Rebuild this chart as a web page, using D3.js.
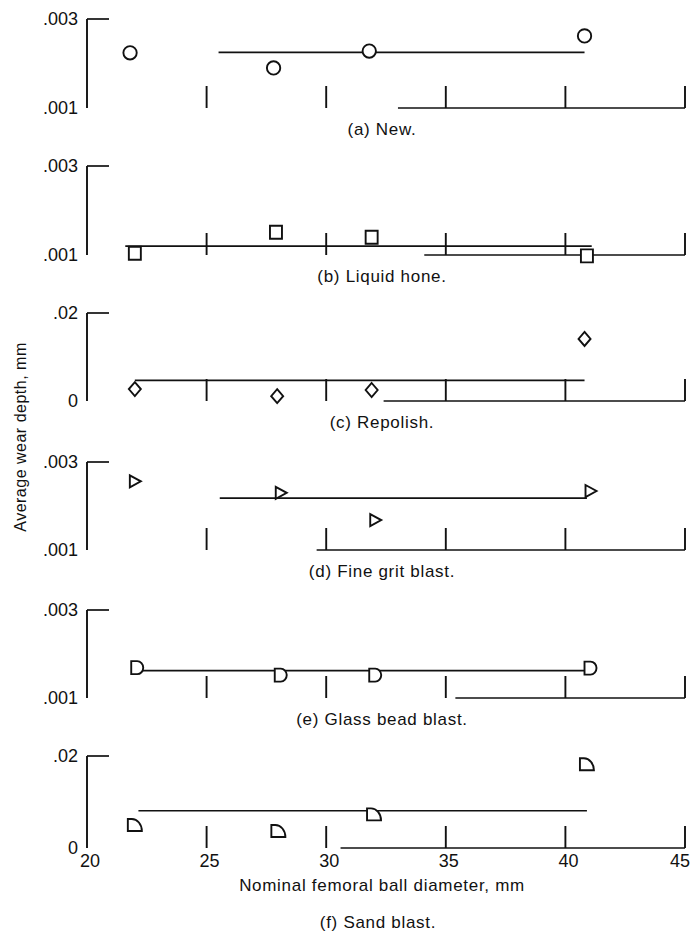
<!DOCTYPE html>
<html>
<head>
<meta charset="utf-8">
<script src="https://cdn.jsdelivr.net/npm/d3@7"></script>
<style>
  html, body { margin: 0; padding: 0; background: #fff; }
  text { font-family: "Liberation Sans Narrow", "Liberation Sans", "DejaVu Sans", sans-serif; fill: #111; }
</style>
</head>
<body>
<svg id="chart" width="691" height="941"></svg>
<script>
// ---------------- data ----------------
const xTicks = [20, 25, 30, 35, 40, 45];
const captions = ["(a) New.", "(b) Liquid hone.", "(c) Repolish.", "(d) Fine grit blast.", "(e) Glass bead blast.", "(f) Sand blast."];
const yTickLabels = [[".001", ".003"], [".001", ".003"], ["0", ".02"], [".001", ".003"], [".001", ".003"], ["0", ".02"]];
const yDomains = [[0.001, 0.003], [0.001, 0.003], [0, 0.02], [0.001, 0.003], [0.001, 0.003], [0, 0.02]];

const newX = [21.8, 27.8, 31.8, 40.8];
const newY = [0.00224, 0.0019, 0.00228, 0.00262];
const newFitX = [25.5, 40.8];
const newFitY = 0.00225;

const honeX = [22, 27.9, 31.9, 40.9];
const honeY = [0.00104, 0.00151, 0.0014, 0.00098];
const honeFitX = [21.6, 41.1];
const honeFitY = 0.0012;

const repolX = [22, 27.95, 31.9, 40.8];
const repolY = [0.0027, 0.0011, 0.0025, 0.0141];
const repolFitX = [22, 40.8];
const repolFitY = 0.0047;

const gritX = [22, 28.1, 32.05, 41.05];
const gritY = [0.00256, 0.0023, 0.00168, 0.00234];
const gritFitX = [25.55, 40.9];
const gritFitY = 0.00218;

const glassX = [22.1, 28.1, 32.05, 41.05];
const glassY = [0.00169, 0.00152, 0.00152, 0.00168];
const glassFitX = [22.2, 40.9];
const glassFitY = 0.00162;

const sandX = [22, 28, 32, 40.9];
const sandY = [0.005, 0.0037, 0.0073, 0.0182];
const sandFitX = [22.15, 40.9];
const sandFitY = 0.0081;

// partial bottom axis line start (x units) as seen in the scan
const baseStart = [33.0, 34.1, 32.4, 29.6, 35.4, 30.6];

// ---------------- layout ----------------
const svg = d3.select("#chart");
const xLeft = 87, xRight = 685;
const x = d3.scaleLinear().domain([20, 45]).range([xLeft, xRight]);
const panelTop = [19, 166, 313, 462, 610, 756];
const panelBot = [108, 255, 401, 550, 698, 848];
const shapes = ["circle", "square", "diamond", "triangle", "dee", "quarter"];

const panels = [
  { xs: newX, ys: newY, fx: newFitX, fy: newFitY },
  { xs: honeX, ys: honeY, fx: honeFitX, fy: honeFitY },
  { xs: repolX, ys: repolY, fx: repolFitX, fy: repolFitY },
  { xs: gritX, ys: gritY, fx: gritFitX, fy: gritFitY },
  { xs: glassX, ys: glassY, fx: glassFitX, fy: glassFitY },
  { xs: sandX, ys: sandY, fx: sandFitX, fy: sandFitY }
];

function markerPath(kind) {
  switch (kind) {
    case "circle": return d3.symbol(d3.symbolCircle, 140)();
    case "square": return "M-6,-6.5H6V6.5H-6Z";
    case "diamond": return "M0,-7L6,0L0,7L-6,0Z";
    case "triangle": return "M-5,-6L6,0L-5,6Z";
    case "dee": return "M-6,-6.5H0A6,6.5 0 0 1 0,6.5H-6Z";
    case "quarter": return "M-7,-6H-3A10,12 0 0 1 7,6H-7Z";
  }
}

const ink = "#111";
const tickLen = 22;

panels.forEach((p, i) => {
  const y = d3.scaleLinear().domain(yDomains[i]).range([panelBot[i], panelTop[i]]);
  const g = svg.append("g");

  // left axis
  g.append("line").attr("x1", x(20)).attr("x2", x(20))
    .attr("y1", y(yDomains[i][1])).attr("y2", y(yDomains[i][0]))
    .attr("stroke", ink).attr("stroke-width", 1.9);
  // top short tick
  g.append("line").attr("x1", x(20)).attr("x2", x(20) + tickLen)
    .attr("y1", y(yDomains[i][1])).attr("y2", y(yDomains[i][1]))
    .attr("stroke", ink).attr("stroke-width", 1.7);
  // partial bottom line
  g.append("line").attr("x1", x(baseStart[i])).attr("x2", x(45))
    .attr("y1", y(yDomains[i][0])).attr("y2", y(yDomains[i][0]))
    .attr("stroke", ink).attr("stroke-width", 1.7);
  // vertical ticks along the bottom
  g.selectAll(".vt").data(xTicks.slice(1)).join("line")
    .attr("x1", d => x(d)).attr("x2", d => x(d))
    .attr("y1", y(yDomains[i][0])).attr("y2", y(yDomains[i][0]) - tickLen)
    .attr("stroke", ink).attr("stroke-width", 1.9);

  // y tick labels
  g.selectAll(".yl").data([0, 1]).join("text")
    .attr("x", 78).attr("y", k => y(yDomains[i][k]) + 6)
    .attr("text-anchor", "end").attr("font-size", 18)
    .text(k => yTickLabels[i][k]);

  // fitted line
  g.append("line").attr("x1", x(p.fx[0])).attr("x2", x(p.fx[1]))
    .attr("y1", y(p.fy)).attr("y2", y(p.fy))
    .attr("stroke", ink).attr("stroke-width", 1.7);

  // markers
  const pts = p.xs.map((v, k) => [v, p.ys[k]]);
  g.selectAll(".m").data(pts).join("path")
    .attr("d", markerPath(shapes[i]))
    .attr("transform", d => `translate(${x(d[0])},${y(d[1])})`)
    .attr("fill", "#fff").attr("stroke", ink).attr("stroke-width", 1.9);

  // caption
  if (i < 5) {
    g.append("text").attr("x", 382).attr("y", panelBot[i] + 27)
      .attr("text-anchor", "middle").attr("font-size", 17).attr("letter-spacing", 0.7)
      .text(captions[i]);
  }
});

// x axis labels under last panel
svg.selectAll(".xl").data(xTicks).join("text")
  .attr("x", d => Math.min(x(d) + 3, 680)).attr("y", 867)
  .attr("text-anchor", "middle").attr("font-size", 18)
  .text(d => d);

svg.append("text").attr("x", 382).attr("y", 891)
  .attr("text-anchor", "middle").attr("font-size", 17).attr("letter-spacing", 0.7)
  .text("Nominal femoral ball diameter,  mm");

svg.append("text").attr("x", 378).attr("y", 928)
  .attr("text-anchor", "middle").attr("font-size", 17).attr("letter-spacing", 0.7)
  .text(captions[5]);

svg.append("text")
  .attr("transform", "translate(26,437) rotate(-90)")
  .attr("text-anchor", "middle").attr("font-size", 16).attr("letter-spacing", 0.5)
  .text("Average wear depth,  mm");
</script>
</body>
</html>
